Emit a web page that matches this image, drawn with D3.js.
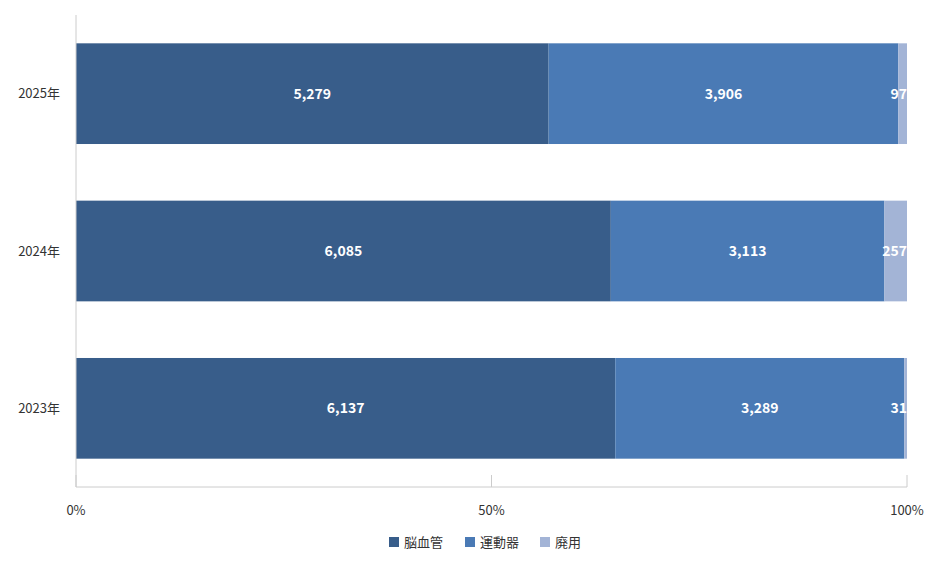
<!DOCTYPE html>
<html><head><meta charset="utf-8">
<script src="https://cdn.jsdelivr.net/npm/d3@7"></script>
<style>body{margin:0;background:#fff}text{font-family:"Noto Sans CJK JP","Noto Sans",sans-serif}</style>
</head><body><svg id="c" width="946" height="567"></svg>
<script>
const categories=["2025年","2024年","2023年"];
const seriesNames=["脳血管","運動器","廃用"];
const colors=["#385d8a","#4a7ab5","#a3b4d6"];
const noukekkan=[5279,6085,6137];
const undouki=[3906,3113,3289];
const haiyou=[97,257,31];
const ticks=[0,0.5,1];
const tickLabels=["0%","50%","100%"];

const svg=d3.select("#c");
const x=d3.scaleLinear().domain([0,1]).range([76,907]);
const y=d3.scaleBand().domain(categories).range([15,487]).paddingInner(0.36).paddingOuter(0.18);
const vals=[noukekkan,undouki,haiyou];
categories.forEach((c,i)=>{
  const tot=vals.reduce((s,a)=>s+a[i],0);
  let acc=0;
  vals.forEach((a,k)=>{
    const x0=x(acc/tot),x1=x((acc+a[i])/tot);acc+=a[i];
    svg.append("rect").attr("x",x0).attr("y",y(c)).attr("width",x1-x0).attr("height",y.bandwidth()).attr("fill",colors[k]);
    const t=svg.append("text").attr("y",y(c)+y.bandwidth()/2).attr("dy","0.35em").attr("text-anchor","middle")
      .attr("fill","#fff").attr("font-weight","bold").attr("font-size",14).text(d3.format(",")(a[i]));
    const w=t.node().getComputedTextLength();
    t.attr("x",Math.min((x0+x1)/2,907-w/2));
  });
  svg.append("text").attr("x",60).attr("y",y(c)+y.bandwidth()/2).attr("dy","0.35em").attr("text-anchor","end")
    .attr("font-size",13).attr("fill","#333").text(c);
});
svg.append("line").attr("x1",76).attr("x2",76).attr("y1",15).attr("y2",487).attr("stroke","#ccc");
svg.append("line").attr("x1",76).attr("x2",907).attr("y1",487).attr("y2",487).attr("stroke","#ccc");
ticks.forEach((t,i)=>{
  svg.append("line").attr("x1",x(t)).attr("x2",x(t)).attr("y1",475).attr("y2",487).attr("stroke","#ccc");
  svg.append("text").attr("x",x(t)).attr("y",515).attr("text-anchor","middle").attr("font-size",13).attr("fill","#333").text(tickLabels[i]);
});
const lx=[389,465,540];
seriesNames.forEach((n,k)=>{
  svg.append("rect").attr("x",lx[k]).attr("y",537).attr("width",10).attr("height",10).attr("fill",colors[k]);
  svg.append("text").attr("x",lx[k]+15).attr("y",542).attr("dy","0.35em").attr("font-size",13).attr("fill","#333").text(n);
});
</script></body></html>
